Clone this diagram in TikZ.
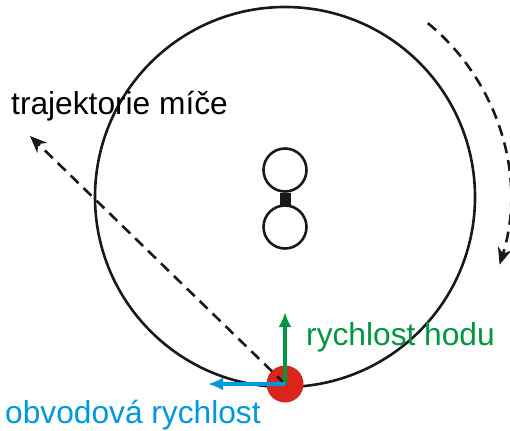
\documentclass[tikz,border=0pt]{standalone}
\usepackage{fontspec}
\setmainfont{Liberation Sans}
\usetikzlibrary{arrows.meta}
\definecolor{ballred}{RGB}{218,37,29}
\definecolor{hodgreen}{RGB}{0,150,64}
\definecolor{obvblue}{RGB}{0,152,218}
\begin{document}
\begin{tikzpicture}[x=1pt,y=-1pt,
  lbl/.style={font=\fontsize{31.7}{36}\selectfont, inner sep=0pt, anchor=base west},
  wheel/.style={draw=black!90, line width=2.6pt},
  dashline/.style={draw=black!90, line width=2.6pt, dash pattern=on 11pt off 7pt},
  vec/.style={line width=3.2pt, -{Latex[length=15pt,width=13pt]}}]
\useasboundingbox (0,0) rectangle (510,430);
% main disc
\node[wheel, circle, minimum size=380pt, inner sep=0pt] (disc) at (285,197) {};
% rotation arc
\draw[dashline, -{Stealth[length=17pt,width=14pt]}] (disc.center) ++(-50.6:225) arc[start angle=-50.6, end angle=17.5, radius=225];
% hub circles
\node[wheel, circle, minimum size=43pt, inner sep=0pt, fill=white] (top) at (285,170) {};
\node[wheel, circle, minimum size=43pt, inner sep=0pt, fill=white] (bot) at (285,227) {};
\node[fill=black!90, minimum width=11pt, minimum height=13pt, inner sep=0pt] (link) at (285,199.5) {};
% ball
\node[circle, fill=ballred, minimum size=37pt, inner sep=0pt] (ball) at (285,384) {};
% trajectory
\coordinate (trajtip) at (30,136);
\draw[dashline, -{Stealth[length=17pt,width=14pt]}] (ball.center) -- (trajtip);
% velocity arrows
\coordinate (hodtip) at (285,312);
\coordinate (obvtip) at (208,384);
\draw[vec, hodgreen] (ball.center) -- (hodtip);
\draw[vec, obvblue] (ball.center) -- (obvtip);
% labels
\node[lbl] (traj) at (11,115) {trajektorie míče};
\node[lbl, text=hodgreen] (hod) at (306,345) {rychlost hodu};
\node[lbl, text=obvblue] (obv) at (5,423) {obvodová rychlost};
\end{tikzpicture}
\end{document}
